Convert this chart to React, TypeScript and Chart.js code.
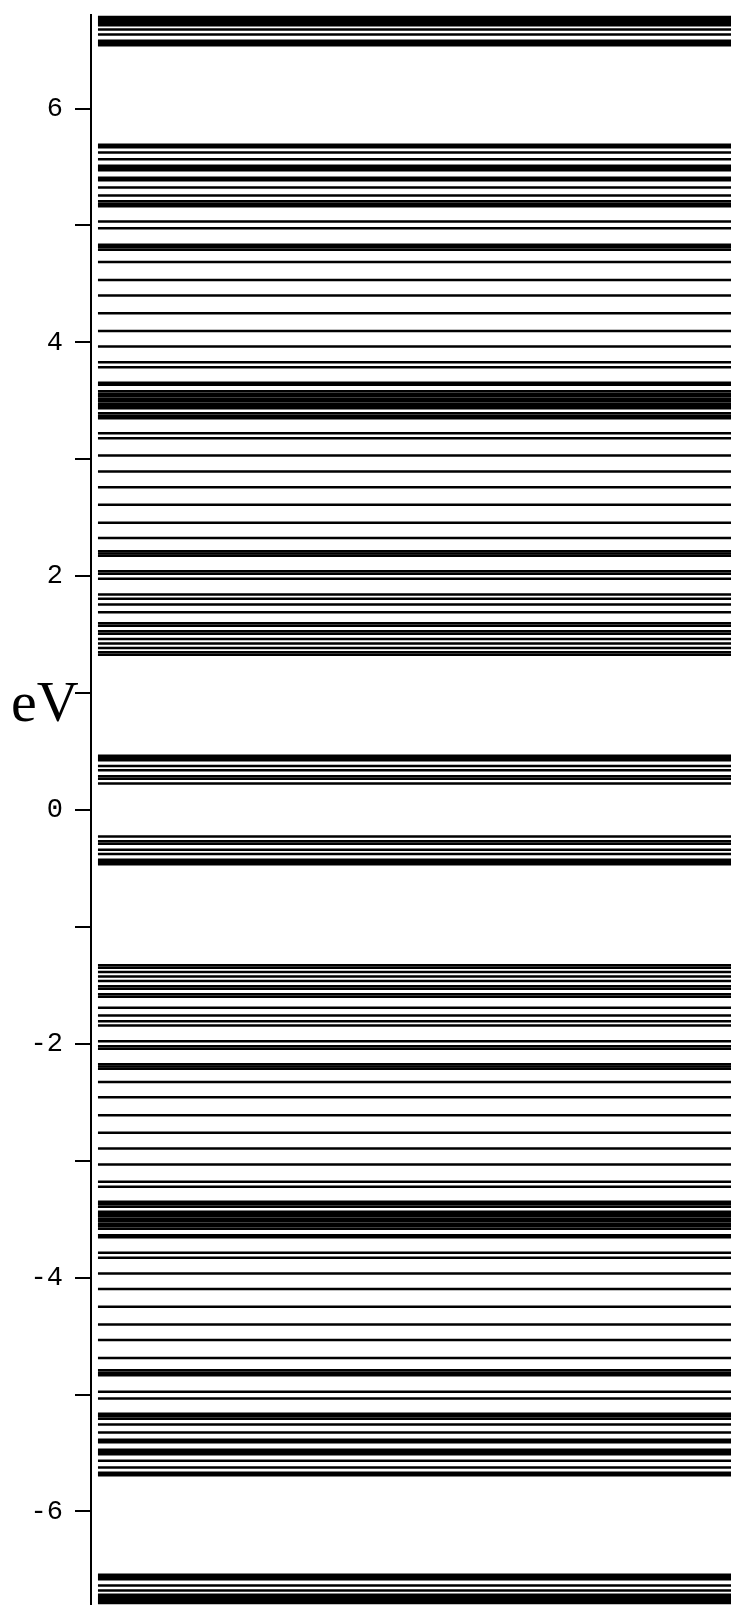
import React, { useEffect, useRef } from 'react';
import { Chart, registerables } from 'chart.js';

Chart.register(...registerables);

// Energy levels (eV), upper half
const levelsUpper = [
  6.783, 6.766, 6.749, 6.732, 6.712, 6.675, 6.633, 6.580, 6.563, 6.542,
  5.690, 5.669, 5.623, 5.566, 5.511, 5.494, 5.472, 5.408, 5.387, 5.324,
  5.256, 5.207, 5.186, 5.164, 5.033, 4.976, 4.835, 4.814, 4.792, 4.688,
  4.534, 4.400, 4.249, 4.098, 3.964, 3.830, 3.787, 3.655, 3.638, 3.582,
  3.561, 3.539, 3.518, 3.496, 3.475, 3.454, 3.436, 3.394, 3.372, 3.351,
  3.223, 3.180, 3.032, 2.895, 2.761, 2.610, 2.456, 2.327, 2.213, 2.194,
  2.174, 2.042, 2.021, 1.977, 1.843, 1.806, 1.758, 1.692, 1.598, 1.576,
  1.529, 1.508, 1.463, 1.424, 1.386, 1.350, 1.328, 0.464, 0.443, 0.426,
  0.377, 0.340, 0.289, 0.268, 0.227,
];

// Energy levels (eV), lower half
const levelsLower = [
  -0.227, -0.268, -0.289, -0.340, -0.377, -0.426, -0.443, -0.464, -1.328, -1.350,
  -1.386, -1.424, -1.463, -1.508, -1.529, -1.576, -1.598, -1.692, -1.758, -1.806,
  -1.843, -1.977, -2.021, -2.042, -2.174, -2.194, -2.213, -2.327, -2.456, -2.610,
  -2.761, -2.895, -3.032, -3.180, -3.223, -3.351, -3.372, -3.394, -3.436, -3.454,
  -3.475, -3.496, -3.518, -3.539, -3.561, -3.582, -3.638, -3.655, -3.787, -3.830,
  -3.964, -4.098, -4.249, -4.400, -4.534, -4.688, -4.792, -4.814, -4.835, -4.976,
  -5.033, -5.164, -5.186, -5.207, -5.256, -5.324, -5.387, -5.408, -5.472, -5.494,
  -5.511, -5.566, -5.623, -5.669, -5.690, -6.542, -6.563, -6.580, -6.633, -6.675,
  -6.712, -6.732, -6.749, -6.766, -6.783,
];

const tickValues = [-6, -5, -4, -3, -2, -1, 0, 1, 2, 3, 4, 5, 6];
const labeledTicks = [-6, -4, -2, 0, 2, 4, 6];
const unitLabel = 'eV';
const yMin = -6.8;
const yMax = 6.8;

const PAD = 40;
const VIEW_H = 1605;
const AREA_TOP = 15;
const CANVAS_TOP = AREA_TOP - PAD;
const CANVAS_H = VIEW_H - CANVAS_TOP + PAD;

export default function App() {
  const ref = useRef<HTMLCanvasElement>(null);

  useEffect(() => {
    document.body.style.margin = '0';
    document.body.style.overflow = 'hidden';
    const levels = [...levelsUpper, ...levelsLower];
    const chart = new Chart(ref.current!, {
      type: 'line',
      data: {
        datasets: levels.map((v) => ({
          data: [
            { x: 0, y: v },
            { x: 1, y: v },
          ],
          borderColor: '#000',
          borderWidth: 2.5,
          borderCapStyle: 'butt',
          pointRadius: 0,
          fill: false,
          tension: 0,
        })),
      },
      options: {
        animation: false,
        responsive: false,
        maintainAspectRatio: false,
        events: [],
        layout: { padding: { top: PAD, bottom: PAD, left: 0, right: 0 } },
        plugins: { legend: { display: false }, tooltip: { enabled: false } },
        scales: {
          x: { type: 'linear', display: false, min: -0.011, max: 1 },
          y: {
            type: 'linear',
            min: yMin,
            max: yMax,
            afterFit: (s: any) => {
              s.width = 91;
            },
            afterBuildTicks: (s: any) => {
              s.ticks = tickValues.map((v) => ({ value: v }));
            },
            ticks: {
              callback: (v: any) => (labeledTicks.includes(Number(v)) ? String(v) : ''),
              color: '#000',
              font: { family: '"Liberation Mono"', size: 27 },
              padding: 12,
            },
            grid: { drawOnChartArea: false, drawTicks: true, tickLength: 16, color: '#000', lineWidth: 2 },
            border: { display: true, color: '#000', width: 2 },
          },
        },
      },
    } as any);
    return () => chart.destroy();
  }, []);

  return (
    <div style={{ position: 'relative', width: 731, height: VIEW_H, overflow: 'hidden', background: '#fff' }}>
      <canvas
        ref={ref}
        width={731}
        height={CANVAS_H}
        style={{ display: 'block', position: 'absolute', left: 0, top: CANVAS_TOP }}
      />
      <div
        style={{
          position: 'absolute',
          left: 11,
          top: 673,
          fontFamily: '"Liberation Serif"',
          fontSize: 58,
          lineHeight: '58px',
          color: '#000',
        }}
      >
        {unitLabel}
      </div>
    </div>
  );
}
